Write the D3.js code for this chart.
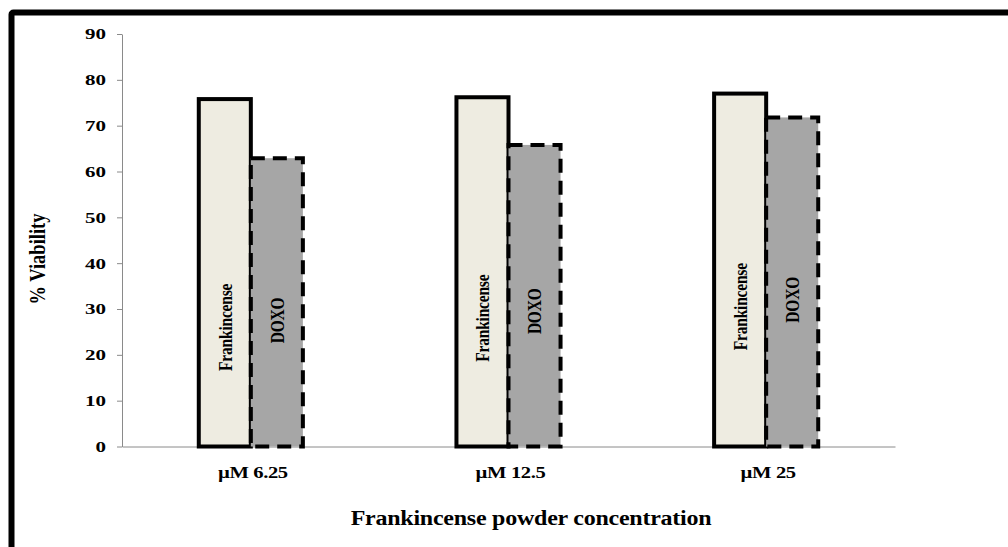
<!DOCTYPE html>
<html>
<head>
<meta charset="utf-8">
<script src="https://cdn.jsdelivr.net/npm/d3@7"></script>
<style>
  body { margin: 0; background: #ffffff; }
  svg text { font-family: "Liberation Serif", "Times New Roman", serif; font-weight: bold; fill: #000; }
</style>
</head>
<body>
<svg id="chart" width="1008" height="547"></svg>
<script>
// ---- data ----
const categories = ["\u00b5M 6.25", "\u00b5M 12.5", "\u00b5M 25"];
const seriesNames = ["Frankincense", "DOXO"];
const frankincense = [75.8, 76.2, 77.0];
const doxo = [62.9, 65.8, 71.8];
const yTicks = [0, 10, 20, 30, 40, 50, 60, 70, 80, 90];
const yTitle = "% Viability";
const xTitle = "Frankincense powder concentration";

// ---- layout ----
const plot = { left: 122, right: 895, top: 34, bottom: 446.5 };
const labelLevels = [26, 28, 30.5];   // value-axis height at which the in-bar names are centred

const svg = d3.select("#chart");

// outer frame (only top and left edges fall inside the page)
svg.append("rect")
  .attr("x", 11.5).attr("y", 12.5)
  .attr("width", 1200).attr("height", 800)
  .attr("rx", 2)
  .attr("fill", "none").attr("stroke", "#000").attr("stroke-width", 6);

const y = d3.scaleLinear().domain([0, 90]).range([plot.bottom, plot.top]);
const x0 = d3.scaleBand().domain(categories).range([plot.left, plot.right])
  .paddingInner(0.596).paddingOuter(0.298);
const x1 = d3.scaleBand().domain(seriesNames).range([0, x0.bandwidth()]);

// y axis
const yAxis = svg.append("g")
  .attr("transform", `translate(${plot.left},0)`)
  .call(d3.axisLeft(y).tickValues(yTicks).tickSize(5).tickSizeOuter(0).tickPadding(11));
yAxis.select(".domain").attr("stroke", "#8a8a8a");
yAxis.selectAll(".tick line").attr("stroke", "#8a8a8a");
yAxis.selectAll(".tick text")
  .attr("x", null).attr("dy", null)
  .attr("dominant-baseline", "central")
  .attr("transform", `translate(-16,0) scale(1.4,1)`)
  .style("font-size", "15px");

// x axis
const xAxis = svg.append("g")
  .attr("transform", `translate(0,${y(0)})`)
  .call(d3.axisBottom(x0).tickSize(0).tickSizeOuter(0));
xAxis.select(".domain").attr("stroke", "#8a8a8a");
xAxis.selectAll(".tick text")
  .attr("y", null).attr("dy", null)
  .attr("transform", `translate(2,31.5) scale(1.25,1)`)
  .style("font-size", "16.5px")
  .style("letter-spacing", "-0.3px");

// bars
const rows = categories.map((c, i) => ({ cat: c, i, values: [frankincense[i], doxo[i]] }));
const groups = svg.append("g").selectAll("g").data(rows).join("g")
  .attr("transform", d => `translate(${x0(d.cat)},0)`);

const barStyle = {
  Frankincense: { fill: "#EEECE1", dash: null },
  DOXO: { fill: "#A6A6A6", dash: "14,8" }
};

groups.selectAll("rect")
  .data(d => seriesNames.map((s, k) => ({ s, v: d.values[k] })))
  .join("rect")
  .attr("x", d => x1(d.s))
  .attr("y", d => y(d.v))
  .attr("width", x1.bandwidth())
  .attr("height", d => y(0) - y(d.v))
  .attr("fill", d => barStyle[d.s].fill)
  .attr("stroke", "#000")
  .attr("stroke-width", 4)
  .attr("stroke-dasharray", d => barStyle[d.s].dash);

// series names written inside the bars
groups.selectAll("text.name")
  .data(d => seriesNames.map(s => ({ s, level: labelLevels[d.i] + (s === "DOXO" ? 1.5 : 0) })))
  .join("text")
  .attr("class", "name")
  .attr("transform", d => `translate(${x1(d.s) + x1.bandwidth() / 2 + 1},${y(d.level)}) rotate(-90) scale(1,1.2)`)
  .attr("text-anchor", "middle")
  .attr("dominant-baseline", "central")
  .style("font-size", "15.5px")
  .style("letter-spacing", "-0.2px")
  .text(d => d.s);

// axis titles
svg.append("text")
  .attr("transform", `translate(37,259) rotate(-90) scale(1,1.2)`)
  .attr("text-anchor", "middle")
  .attr("dominant-baseline", "central")
  .style("font-size", "18.5px")
  .text(yTitle);

svg.append("text")
  .attr("transform", `translate(531,525) scale(1.2,1)`)
  .attr("text-anchor", "middle")
  .style("font-size", "20px")
  .style("letter-spacing", "-0.2px")
  .text(xTitle);
</script>
</body>
</html>
